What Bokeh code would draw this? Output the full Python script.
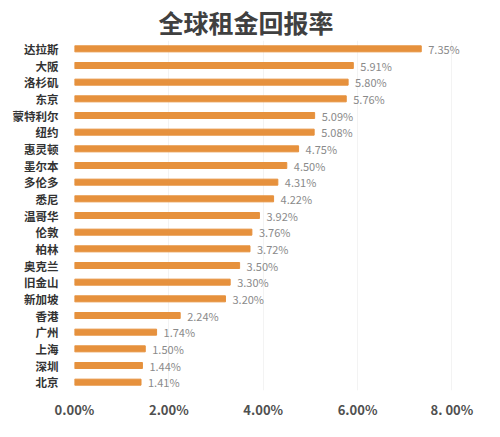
from bokeh.plotting import figure
from bokeh.models import ColumnDataSource, FactorRange, Range1d, FixedTicker
from bokeh.core.properties import value
from bokeh.embed import file_html
from bokeh.resources import INLINE

cities = ["达拉斯", "大阪", "洛杉矶", "东京", "蒙特利尔", "纽约", "惠灵顿", "墨尔本", "多伦多", "悉尼",
          "温哥华", "伦敦", "柏林", "奥克兰", "旧金山", "新加坡", "香港", "广州", "上海", "深圳", "北京"]
yields = [7.35, 5.91, 5.80, 5.76, 5.09, 5.08, 4.75, 4.50, 4.31, 4.22,
          3.92, 3.76, 3.72, 3.50, 3.30, 3.20, 2.24, 1.74, 1.50, 1.44, 1.41]
tick_values = [0, 2, 4, 6, 8]
tick_labels = ["0.00%", "2.00%", "4.00%", "6.00%", "8. 00%"]

labels = ["%.2f%%" % v for v in yields]
src = ColumnDataSource(dict(city=cities, v=yields, lab=labels))

CJK = "Noto Sans CJK SC"

p = figure(width=484, height=421, output_backend="svg", toolbar_location=None,
           y_range=FactorRange(factors=list(reversed(cities))),
           x_range=Range1d(0, 8.5),
           min_border_left=74, min_border_right=9, min_border_bottom=30, min_border_top=36,
           title="全球租金回报率")
p.title.text_font = CJK
p.title.text_font_size = "25px"
p.title.text_font_style = "bold"
p.title.text_color = "#404040"
p.title.align = "left"
p.title.offset = 84
p.title.standoff = 2

p.hbar(y="city", right="v", left=0, height=0.36, source=src, color="#E6913D")
p.text(x="v", y="city", text="lab", source=src, x_offset=7,
       text_font=value(CJK), text_font_size="11px", text_color="#8a8a8a",
       text_baseline="middle", text_align="left")

p.outline_line_color = None
p.background_fill_color = "white"
p.ygrid.grid_line_color = None
p.xgrid.grid_line_color = "#f3f3f3"
p.xgrid.ticker = FixedTicker(ticks=tick_values)

xa = p.xaxis[0]
xa.ticker = FixedTicker(ticks=tick_values)
xa.major_label_overrides = {t: l for t, l in zip(tick_values, tick_labels)}
xa.axis_line_color = None
xa.major_tick_line_color = None
xa.minor_tick_line_color = None
xa.major_label_text_font = CJK
xa.major_label_text_font_size = "13px"
xa.major_label_text_font_style = "bold"
xa.major_label_text_color = "#505050"
xa.major_label_standoff = 3

ya = p.yaxis[0]
ya.axis_line_color = None
ya.major_tick_line_color = None
ya.major_label_text_font = CJK
ya.major_label_text_font_size = "11.5px"
ya.major_label_text_font_style = "bold"
ya.major_label_text_color = "#333333"
ya.major_label_standoff = 10

open("out.html", "w").write(file_html(p, INLINE))
